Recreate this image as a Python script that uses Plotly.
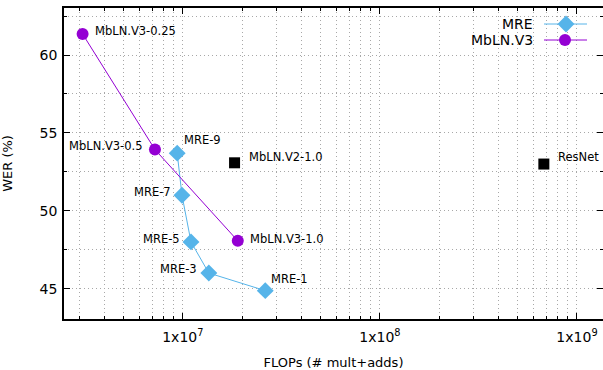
import math
import plotly.graph_objects as go

# Data
mre_names = ["MRE-9", "MRE-7", "MRE-5", "MRE-3", "MRE-1"]
mre_flops = [9.36e6, 9.9e6, 1.10e7, 1.355e7, 2.62e7]
mre_wer = [53.7, 51.0, 48.0, 46.0, 44.87]

mbv3_names = ["MbLN.V3-0.25", "MbLN.V3-0.5", "MbLN.V3-1.0"]
mbv3_flops = [3.1e6, 7.22e6, 1.90e7]
mbv3_wer = [61.35, 53.93, 48.07]

other_names = ["MbLN.V2-1.0", "ResNet"]
other_flops = [1.83e7, 6.79e8]
other_wer = [53.08, 53.0]

MRE_C = "#56b4e9"
V3_C = "#9400d3"
FONT = "DejaVu Sans"

fig = go.Figure()
fig.add_trace(go.Scatter(x=mre_flops, y=mre_wer, mode="lines+markers",
                         line=dict(color=MRE_C, width=1),
                         marker=dict(symbol="diamond", size=13, color=MRE_C),
                         showlegend=False))
fig.add_trace(go.Scatter(x=mbv3_flops, y=mbv3_wer, mode="lines+markers",
                         line=dict(color=V3_C, width=1),
                         marker=dict(symbol="circle", size=12, color=V3_C),
                         showlegend=False))
fig.add_trace(go.Scatter(x=other_flops, y=other_wer, mode="markers",
                         marker=dict(symbol="square", size=11, color="black"),
                         showlegend=False))

# label offsets (pixel shifts), anchor
label_style = {
    "MbLN.V3-0.25": ("left", 10, 3),
    "MbLN.V3-0.5": ("right", -10, 4),
    "MbLN.V3-1.0": ("left", 10, 2),
    "MRE-9": ("left", 5, 13),
    "MRE-7": ("right", -9, 3),
    "MRE-5": ("right", -9, 3),
    "MRE-3": ("right", -10, 4),
    "MRE-1": ("left", 4, 12),
    "MbLN.V2-1.0": ("left", 12, 6),
    "ResNet": ("left", 12, 7),
}
for names, xs, ys in [(mre_names, mre_flops, mre_wer),
                      (mbv3_names, mbv3_flops, mbv3_wer),
                      (other_names, other_flops, other_wer)]:
    for n, x, y in zip(names, xs, ys):
        anc, dx, dy = label_style[n]
        fig.add_annotation(x=math.log10(x), y=y, xref="x", yref="y", text=n, showarrow=False,
                           xanchor=anc, yanchor="middle", xshift=dx, yshift=dy,
                           font=dict(family=FONT, size=11.5, color="black"))

# legend (pixel coordinates of the plot area, overlay axes)
fig.add_trace(go.Scatter(x=[544, 587], y=[24, 24], xaxis="x2", yaxis="y2", mode="lines",
                         line=dict(color=MRE_C, width=1), showlegend=False, hoverinfo="skip"))
fig.add_trace(go.Scatter(x=[566], y=[24], xaxis="x2", yaxis="y2", mode="markers",
                         marker=dict(symbol="diamond", size=13, color=MRE_C), showlegend=False, hoverinfo="skip"))
fig.add_trace(go.Scatter(x=[544, 587], y=[40, 40], xaxis="x2", yaxis="y2", mode="lines",
                         line=dict(color=V3_C, width=1), showlegend=False, hoverinfo="skip"))
fig.add_trace(go.Scatter(x=[565], y=[40], xaxis="x2", yaxis="y2", mode="markers",
                         marker=dict(symbol="circle", size=12, color=V3_C), showlegend=False, hoverinfo="skip"))
fig.add_annotation(x=535, y=24, xref="x2", yref="y2", text="MRE", showarrow=False,
                   xanchor="right", yanchor="middle", font=dict(family=FONT, size=14, color="black"))
fig.add_annotation(x=535, y=40, xref="x2", yref="y2", text="MbLN.V3", showarrow=False,
                   xanchor="right", yanchor="middle", font=dict(family=FONT, size=14, color="black"))

GRID = "#a8a8a8"
DASH = "1px,3px"
fig.update_layout(
    width=603, height=370,
    margin=dict(l=64, r=0, t=8, b=51),
    paper_bgcolor="white", plot_bgcolor="white",
    font=dict(family=FONT, size=13, color="black"),
    xaxis=dict(type="log", range=[6.397, 9.132], dtick=1, tick0=0, automargin=False,
               labelalias={"10M": "1x10<sup>7</sup>", "100M": "1x10<sup>8</sup>", "1B": "1x10<sup>9</sup>"},
               ticks="inside", ticklen=6, tickcolor="black", ticklabelstandoff=4,
               showline=True, linecolor="black", linewidth=1.5, mirror="allticks",
               showgrid=True, gridcolor=GRID, griddash=DASH, gridwidth=1,
               minor=dict(ticks="inside", ticklen=3, tickcolor="black", showgrid=True,
                          gridcolor=GRID, griddash=DASH, dtick="D1"),
               zeroline=False,
               title=dict(text="FLOPs (# mult+adds)", font=dict(size=13), standoff=20),
               tickfont=dict(size=14)),
    yaxis=dict(range=[43.05, 63.02], dtick=5, tick0=0, automargin=False,
               ticks="inside", ticklen=6, tickcolor="black", ticklabelstandoff=2,
               showline=True, linecolor="black", linewidth=1.5, mirror="allticks",
               showgrid=True, gridcolor=GRID, griddash=DASH, gridwidth=1,
               minor=dict(ticks="inside", ticklen=3, tickcolor="black", showgrid=True,
                          gridcolor=GRID, griddash=DASH, dtick=2.5),
               zeroline=False,
               title=dict(text="WER (%)", font=dict(size=13), standoff=25),
               tickfont=dict(size=14)),
    xaxis2=dict(overlaying="x", range=[64, 603], visible=False, fixedrange=True),
    yaxis2=dict(overlaying="y", range=[319, 8], visible=False, fixedrange=True),
)

fig.write_html("out.html", config={"displayModeBar": False},
               post_script="document.body.style.margin='0';document.body.style.overflow='hidden';")
